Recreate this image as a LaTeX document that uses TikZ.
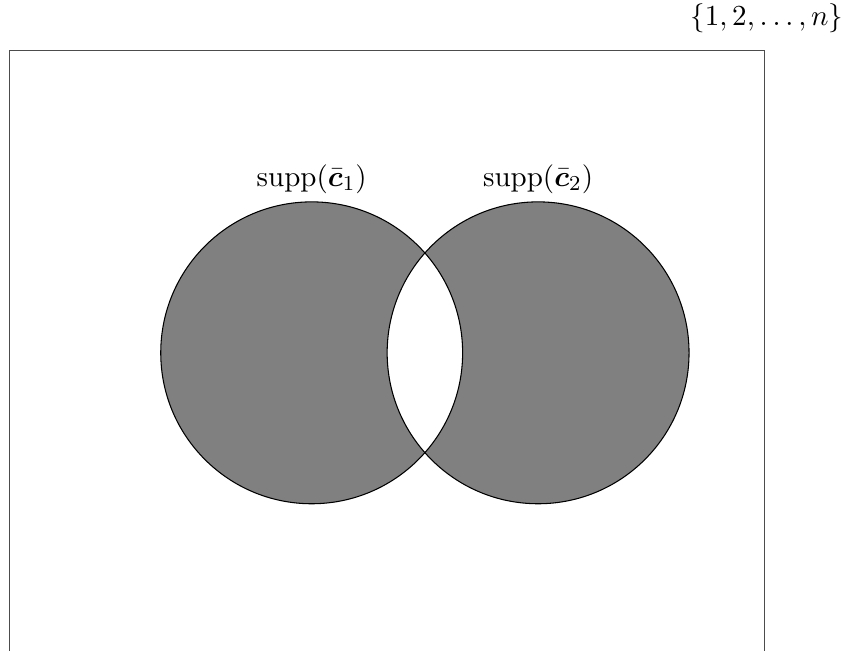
\documentclass[tikz,border=0pt]{standalone}
\usepackage{amsmath,amssymb,bm}
\usepackage{tikz}
\usetikzlibrary{positioning}
\tikzset{
  setbox/.style={draw=black!70},
  suppfill/.style={fill=black!50, even odd rule},
  suppline/.style={draw=black},
  labelstyle/.style={inner sep=3pt, font=\fontsize{10.95}{13.6}\selectfont}
}

\begin{document}
\begin{tikzpicture}
  \useasboundingbox (-4.13,-3.947) rectangle (7.04,4.675);
  \coordinate (c1) at (0,0);
  \coordinate (c2) at (3,0);
  \draw[setbox] (-4,-4) rectangle (6,4);
  \coordinate (ne) at (6.03,4);
  \node[labelstyle, above=0.13 of ne] (universe) {$\{1,2,\ldots,n\}$};
  % shaded symmetric difference
  \fill[suppfill] (c1) circle (2) (c2) circle (2);
  \draw[suppline] (c1) circle (2);
  \draw[suppline] (c2) circle (2);
  \coordinate (top1) at (0,2);
  \coordinate (top2) at (3,2);
  \node[labelstyle, above=0pt of top1] (s1) {$\operatorname{supp}(\bar{\bm{c}}_1)$};
  \node[labelstyle, above=0pt of top2] (s2) {$\operatorname{supp}(\bar{\bm{c}}_2)$};
\end{tikzpicture}
\end{document}
